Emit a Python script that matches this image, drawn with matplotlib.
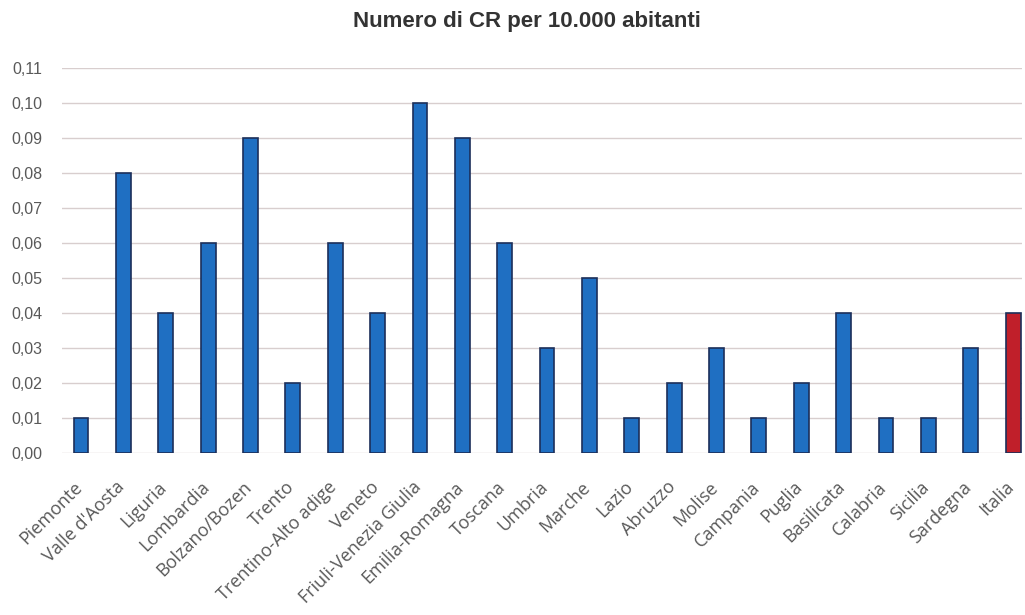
import numpy as np
import matplotlib.pyplot as plt
from matplotlib.transforms import ScaledTranslation

regioni = ["Piemonte", "Valle d'Aosta", "Liguria", "Lombardia", "Bolzano/Bozen",
           "Trento", "Trentino-Alto adige", "Veneto", "Friuli-Venezia Giulia",
           "Emilia-Romagna", "Toscana", "Umbria", "Marche", "Lazio", "Abruzzo",
           "Molise", "Campania", "Puglia", "Basilicata", "Calabria", "Sicilia",
           "Sardegna", "Italia"]
valori = [0.01, 0.08, 0.04, 0.06, 0.09, 0.02, 0.06, 0.04, 0.10, 0.09, 0.06,
          0.03, 0.05, 0.01, 0.02, 0.03, 0.01, 0.02, 0.04, 0.01, 0.01, 0.03, 0.04]

colori = ["#1f6fc2"] * (len(regioni) - 1) + ["#c01f2a"]

fig = plt.figure(figsize=(10.25, 6.15), dpi=100)
ax = fig.add_axes([62/1025, 1 - 453/615, (1022 - 62)/1025, (453 - 68)/615])

x = np.arange(len(regioni))
ax.bar(x, valori, width=0.35, color=colori, edgecolor="#1c2f5a", linewidth=1.2, zorder=3)

ax.set_ylim(0, 0.11)
ax.set_xlim(-0.45, 22.21)
yt = np.arange(0, 0.111, 0.01)
ax.set_yticks(yt)
ax.set_yticklabels([("%.2f" % v).replace(".", ",") for v in yt],
                   fontsize=11.5, color="#595959", family="Liberation Sans")
ax.set_xticks(x)
ax.set_xticklabels([])
# etichette delle regioni, spostate come nel grafico originale
off = ScaledTranslation(-0.08, -0.25, fig.dpi_scale_trans)
for i, nome in zip(x, regioni):
    ax.text(i, 0, nome, transform=ax.get_xaxis_transform() + off,
            rotation=45, ha="right", va="top", rotation_mode="anchor",
            fontsize=13, color="#595959", family="Open Sans")
ax.tick_params(axis="y", length=0, pad=14)
ax.tick_params(axis="x", length=0)
ax.grid(axis="y", color="#d8cece", linewidth=1, zorder=0)
for s in ax.spines.values():
    s.set_visible(False)

fig.text(527/1025, 1 - 21/615, "Numero di CR per 10.000 abitanti", ha="center", va="center",
         fontsize=16, fontweight="bold", color="#333333", family="Liberation Sans")

fig.savefig("out.png", dpi=100)
